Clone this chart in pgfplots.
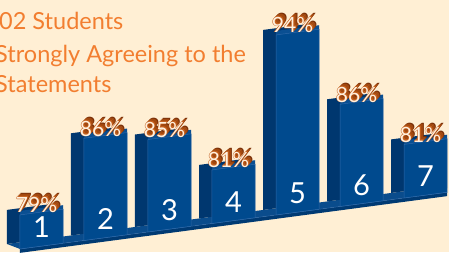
\documentclass[border=0pt]{standalone}
\usepackage{pgfplots}
\pgfplotsset{compat=1.18}
\usepackage{pgfplotstable}
\usepackage{fontspec}
\setmainfont{Lato}
\definecolor{bg}{HTML}{FFEFD4}
\definecolor{titleor}{HTML}{F27E30}
\definecolor{front}{HTML}{004A8E}
\definecolor{side}{HTML}{00376F}
\definecolor{topf}{HTML}{0A4F92}
\definecolor{edge}{HTML}{2E68A8}
\definecolor{floortop}{HTML}{0A4C8C}
\definecolor{floorfront}{HTML}{003A73}
\definecolor{brA}{HTML}{7A3008}
\definecolor{brB}{HTML}{A2480F}
\definecolor{brC}{HTML}{C45F1C}
\definecolor{pctface}{HTML}{FFF1E0}

\pgfplotstableread{
x v n
1 79 1
2 86 2
3 85 3
4 81 4
5 94 5
6 86 6
7 81 7
}\data

\newcommand{\pct}[1]{%
\makebox[0pt]{\hspace*{8pt}\raisebox{4pt}{\textcolor{brA}{\bfseries#1}}}%
\makebox[0pt]{\hspace*{6pt}\raisebox{3pt}{\textcolor{brB}{\bfseries#1}}}%
\makebox[0pt]{\hspace*{4pt}\raisebox{2pt}{\textcolor{brB}{\bfseries#1}}}%
\makebox[0pt]{\hspace*{2pt}\raisebox{1pt}{\textcolor{brC}{\bfseries#1}}}%
\makebox[0pt]{\textcolor{brC}{\bfseries#1}}%
\makebox[0pt]{\textcolor{pctface}{#1}}}

\pgfplotsset{
  skew/.style={x=64pt, y=9.73pt, xmin=0, xmax=8, ymin=0, ymax=20,
    hide axis, clip=false, anchor=south west},
}

\begin{document}
\begin{tikzpicture}
\useasboundingbox (0,0) rectangle (449pt,252pt);
\fill[bg] (0,0) rectangle (449pt,252pt);
\clip (0,0) rectangle (449pt,252pt);
\begin{scope}[every node/.style={anchor=base west, text=titleor, inner sep=0pt, font=\fontsize{23.5}{23.5}\selectfont}]
\node at (-1pt,222pt) {02 Students};
\node at (-5pt,189pt) {Strongly Agreeing to the};
\node at (-5pt,159pt) {Statements};
\end{scope}
\begin{scope}[transform canvas={cm={1,0.1328,0,1,(0,0)}}]
% floor
\begin{axis}[skew, at={(-22.5pt,0.39pt)}]
\addplot[fill=floortop, draw=none] coordinates {(0.664,0) (7.336,0) (7.133,0.69) (0.461,0.69)} -- cycle;
\addplot[fill=floorfront, draw=none] coordinates {(0.664,-0.4) (7.336,-0.4) (7.336,0) (0.664,0)} -- cycle;
\addplot[draw=edge, line width=0.5pt] coordinates {(0.664,0) (7.336,0)};
\end{axis}
% side faces
\begin{axis}[skew, at={(-35.5pt,7.12pt)}]
\addplot[ybar, bar width=0.672, bar shift=0, fill=side, draw=none] table[x=x, y expr=\thisrow{v}-75.5] {\data};
\end{axis}
% top faces
\begin{axis}[skew, at={(-22.5pt,4.39pt)}]
\addplot[ybar, bar width=0.672, bar shift=0, fill=topf, draw=none] table[x=x, y expr=\thisrow{v}-75.5] {\data};
\end{axis}
% front faces
\begin{axis}[skew, at={(-22.5pt,0.39pt)}]
\addplot[ybar, bar width=0.672, bar shift=0, fill=front, draw=edge, line width=0.5pt]
  table[x=x, y expr=\thisrow{v}-75.5] {\data};
\end{axis}
\end{scope}
% labels (unskewed axis, skew added to positions)
\begin{axis}[skew, at={(-22.5pt,-2.6pt)}]
\addplot[draw=none, mark=none, nodes near coords={\pct{\pgfplotspointmeta\%}}, point meta=explicit symbolic,
  every node near coord/.style={anchor=south, xshift=-5pt, yshift=-1pt, inner sep=0pt,
    font=\fontsize{21}{21}\selectfont}]
  table[x=x, y expr=\thisrow{v}-75.5+0.8735*\thisrow{x}, meta=v] {\data};
\addplot[draw=none, mark=none, nodes near coords, point meta=explicit symbolic,
  every node near coord/.style={anchor=base, inner sep=0pt, text=white,
    font=\fontsize{29}{29}\selectfont}]
  table[x=x, y expr=0.85+0.8735*\thisrow{x}, meta=n] {\data};
\end{axis}
\end{tikzpicture}
\end{document}
